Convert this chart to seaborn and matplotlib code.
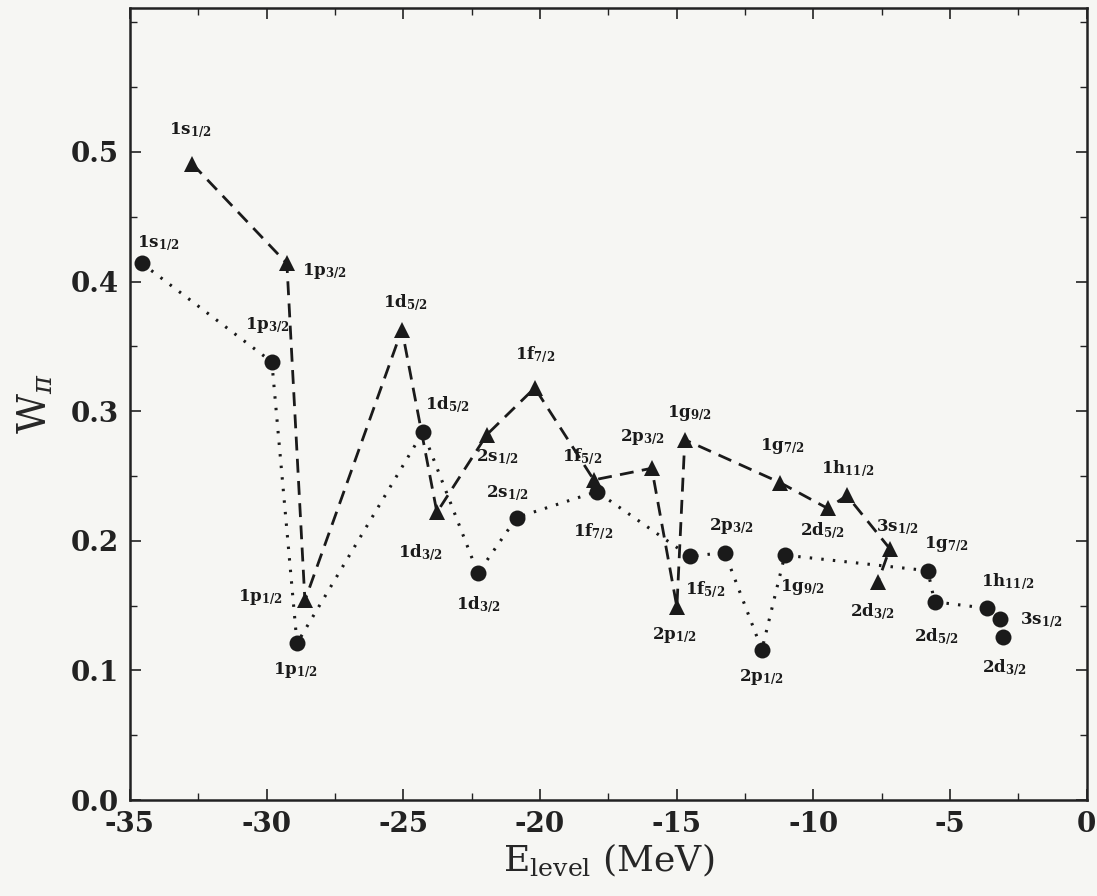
import matplotlib
matplotlib.use("Agg")
import matplotlib.pyplot as plt
import seaborn as sns
import pandas as pd
from matplotlib.ticker import MultipleLocator

# level names in plotting (connection) order
levels = ["1s1/2", "1p3/2", "1p1/2", "1d5/2", "1d3/2", "2s1/2", "1f7/2", "1f5/2",
          "2p3/2", "2p1/2", "1g9/2", "1g7/2", "2d5/2", "1h11/2", "3s1/2", "2d3/2"]

# triangles, dashed
tri_e = [-32.73, -29.26, -28.60, -25.05, -23.77, -21.94, -20.19, -18.03,
         -15.91, -14.99, -14.70, -11.22, -9.47, -8.77, -7.20, -7.64]
tri_w = [0.491, 0.414, 0.154, 0.363, 0.222, 0.282, 0.318, 0.247,
         0.256, 0.149, 0.278, 0.245, 0.225, 0.235, 0.194, 0.168]

# circles, dotted
circ_e = [-34.56, -29.81, -28.89, -24.28, -22.27, -20.85, -17.92, -14.52,
          -13.24, -11.88, -11.04, -5.81, -5.56, -3.65, -3.18, -3.07]
circ_w = [0.414, 0.338, 0.121, 0.284, 0.175, 0.218, 0.238, 0.188,
          0.191, 0.116, 0.189, 0.177, 0.153, 0.148, 0.140, 0.126]

# label offsets from each marker (pixels, +y down)
tri_off = [(-2, -33), (38, 8), (-45, -3), (3, -27), (-17, 41), (10, 23), (0, -33), (-12, -23),
           (-9, -31), (-2, 28), (5, -27), (2, -36), (-5, 22), (1, -27), (7, -21), (-5, 30)]
circ_off = [(16, -20), (-4, -37), (-2, 27), (24, -27), (0, 32), (-9, -24), (-4, 40), (15, 33),
            (7, -26), (0, 27), (18, 32), (19, -27), (2, 35), (21, -26), (42, 2), (2, 31)]


def label(name):
    return r"$\mathbf{" + name[:2] + "}_{\mathbf{" + name[2:] + "}}$"


sns.set_style("ticks")
plt.rcParams["font.family"] = ["DejaVu Serif"]
plt.rcParams["mathtext.fontset"] = "dejavuserif"
plt.rcParams["axes.unicode_minus"] = False

bg = "#f6f6f3"
ink = "#1a1a1a"
fig = plt.figure(figsize=(10.97, 8.96), dpi=100, facecolor=bg)
ax = fig.add_axes([0.1185, 0.107, 0.872, 0.884])
ax.set_facecolor(bg)

df_t = pd.DataFrame({"E": tri_e, "W": tri_w})
df_c = pd.DataFrame({"E": circ_e, "W": circ_w})

sns.lineplot(data=df_t, x="E", y="W", sort=False, estimator=None, ax=ax,
             color=ink, linewidth=2.0, linestyle=(0, (5, 3)),
             marker="^", markersize=12, markeredgewidth=0)
sns.lineplot(data=df_c, x="E", y="W", sort=False, estimator=None, ax=ax,
             color=ink, linewidth=2.2, linestyle=(0, (0.8, 3)),
             marker="o", markersize=11.5, markeredgewidth=0)

for x, y, name, (dx, dy) in zip(tri_e, tri_w, levels, tri_off):
    ax.annotate(label(name), (x, y), xytext=(dx * 0.72, -dy * 0.72),
                textcoords="offset points", ha="center", va="center",
                fontsize=12, color=ink)
for x, y, name, (dx, dy) in zip(circ_e, circ_w, levels, circ_off):
    ax.annotate(label(name), (x, y), xytext=(dx * 0.72, -dy * 0.72),
                textcoords="offset points", ha="center", va="center",
                fontsize=12, color=ink)

ax.set_xlim(-35, 0)
ax.set_ylim(0, 0.611)
ax.xaxis.set_major_locator(MultipleLocator(5))
ax.xaxis.set_minor_locator(MultipleLocator(2.5))
ax.yaxis.set_minor_locator(MultipleLocator(0.05))
ax.set_yticks([0.0, 0.1, 0.2, 0.3, 0.4, 0.5])
ax.set_yticklabels(["0.0", "0.1", "0.2", "0.3", "0.4", "0.5"])
ax.tick_params(which="both", direction="in", top=True, right=True, colors="#222222")
ax.tick_params(which="major", length=8, width=1.2, labelsize=20, pad=8)
ax.tick_params(which="minor", length=5, width=1.0)
for lab in ax.get_xticklabels() + ax.get_yticklabels():
    lab.set_fontweight("bold")
for s in ax.spines.values():
    s.set_linewidth(1.8)
    s.set_color("#222222")

ax.set_xlabel(r"E$_{\mathrm{level}}$ (MeV)", fontsize=26, labelpad=2)
ax.set_ylabel(r"W$_{\pi}$", fontsize=28, labelpad=12)

fig.savefig("out.png", dpi=100, facecolor=bg)
